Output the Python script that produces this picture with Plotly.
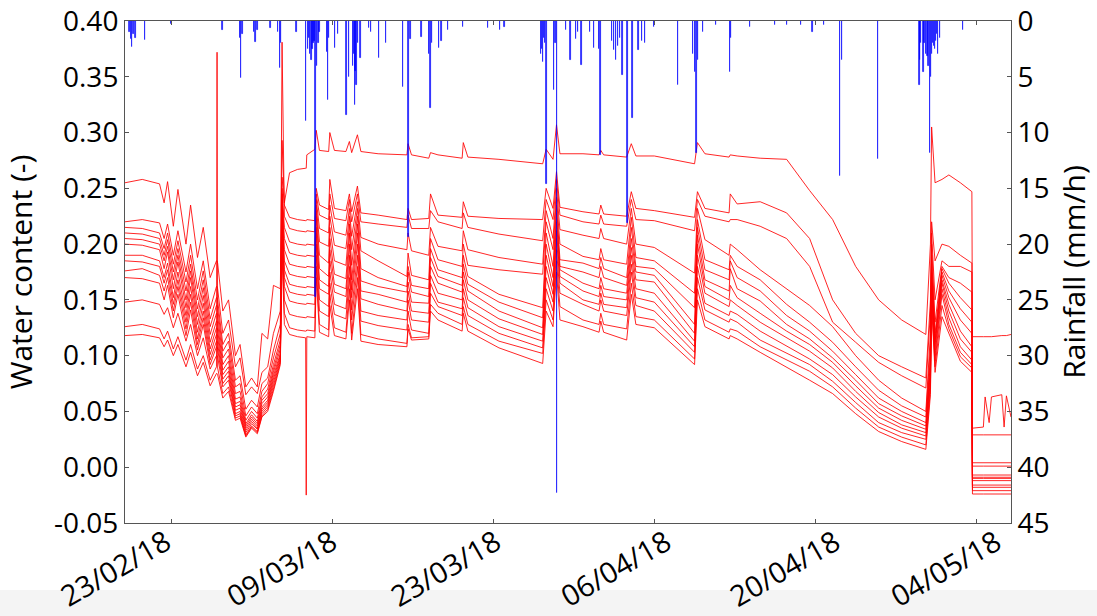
import pandas as pd
import plotly.graph_objects as go

start_date = "2018-02-19"
end_date = "2018-05-07"

# sample times (days after start_date)
t_days = [
    0.0, 1.5, 3.0, 3.4, 3.7, 4.2, 4.6, 5.3, 5.7, 6.3,
    6.8, 7.4, 7.95, 8.0, 8.05, 8.5, 9.0, 9.6, 10.0, 10.5,
    11.0, 11.5, 11.9, 12.4, 12.9, 13.5, 13.65, 13.85, 14.3, 15.0,
    15.7, 15.75, 15.8, 16.5, 16.62, 16.9, 17.7, 17.8, 18.2, 19.2,
    19.5, 19.7, 20.2, 20.5, 22.0, 24.5, 24.6, 24.9, 26.4, 26.55,
    27.2, 29.3, 29.4, 29.8, 32.5, 36.3, 36.6, 37.2, 37.5, 37.8,
    39.8, 41.2, 41.35, 41.6, 43.6, 44.0, 44.4, 46.0, 49.5, 49.75,
    50.4, 52.5, 52.6, 53.2, 55.2, 57.5, 59.5, 61.5, 63.5, 65.5,
    67.5, 69.6, 70.0, 70.1, 70.4, 71.0, 71.6, 72.6, 73.6, 73.65,
    74.6, 74.75, 75.1, 75.3, 76.2, 76.4, 76.6, 77.0]

s0 = [
    0.255, 0.258, 0.254, 0.237, 0.256, 0.216, 0.249, 0.200, 0.235, 0.188,
    0.215, 0.170, 0.185, 0.185, 0.183, 0.140, 0.150, 0.100, 0.110, 0.072,
    0.080, 0.072, 0.120, 0.115, 0.163, 0.160, 0.293, 0.237, 0.264, 0.267,
    0.268, 0.268, 0.280, 0.285, 0.302, 0.284, 0.283, 0.300, 0.284, 0.283,
    0.292, 0.282, 0.298, 0.283, 0.281, 0.280, 0.290, 0.280, 0.277, 0.282,
    0.280, 0.277, 0.291, 0.278, 0.276, 0.272, 0.285, 0.276, 0.307, 0.281,
    0.281, 0.280, 0.284, 0.280, 0.278, 0.290, 0.279, 0.279, 0.272, 0.291,
    0.281, 0.278, 0.280, 0.279, 0.277, 0.276, 0.248, 0.222, 0.180, 0.150,
    0.132, 0.119, 0.200, 0.305, 0.255, 0.258, 0.262, 0.255, 0.247, 0.117,
    0.117, 0.117, 0.117, 0.117, 0.118, 0.118, 0.118, 0.119]
s1 = [
    0.220, 0.222, 0.219, 0.205, 0.218, 0.190, 0.212, 0.175, 0.200, 0.160,
    0.185, 0.142, 0.162, 0.162, 0.160, 0.120, 0.132, 0.090, 0.098, 0.065,
    0.072, 0.066, 0.085, 0.090, 0.120, 0.140, 0.260, 0.235, 0.224, 0.222,
    0.221, 0.221, 0.222, 0.221, 0.250, 0.235, 0.231, 0.258, 0.232, 0.230,
    0.245, 0.229, 0.252, 0.228, 0.226, 0.222, 0.232, 0.222, 0.223, 0.245,
    0.226, 0.224, 0.238, 0.225, 0.223, 0.222, 0.250, 0.232, 0.265, 0.233,
    0.229, 0.227, 0.235, 0.227, 0.225, 0.247, 0.232, 0.230, 0.224, 0.247,
    0.232, 0.228, 0.245, 0.236, 0.238, 0.228, 0.205, 0.150, 0.120, 0.100,
    0.090, 0.080, 0.150, 0.220, 0.185, 0.200, 0.198, 0.190, 0.183, 0.035,
    0.036, 0.063, 0.040, 0.063, 0.065, 0.036, 0.064, 0.045]
s2 = [
    0.215, 0.214, 0.210, 0.196, 0.210, 0.182, 0.203, 0.166, 0.190, 0.150,
    0.176, 0.133, 0.152, 0.152, 0.150, 0.110, 0.120, 0.078, 0.082, 0.052,
    0.060, 0.054, 0.075, 0.080, 0.105, 0.128, 0.381, 0.225, 0.214, 0.212,
    0.211, 0.211, 0.212, 0.211, 0.245, 0.226, 0.222, 0.245, 0.223, 0.221,
    0.240, 0.220, 0.245, 0.220, 0.218, 0.215, 0.226, 0.214, 0.214, 0.230,
    0.220, 0.214, 0.228, 0.215, 0.209, 0.203, 0.240, 0.222, 0.258, 0.226,
    0.220, 0.218, 0.226, 0.218, 0.216, 0.240, 0.222, 0.221, 0.212, 0.240,
    0.225, 0.220, 0.222, 0.222, 0.216, 0.205, 0.180, 0.130, 0.112, 0.094,
    0.082, 0.071, 0.140, 0.210, 0.150, 0.185, 0.180, 0.180, 0.175, 0.029,
    0.029, 0.029, 0.029, 0.029, 0.029, 0.029, 0.029, 0.029]
s3 = [
    0.210, 0.209, 0.205, 0.190, 0.204, 0.175, 0.196, 0.158, 0.182, 0.142,
    0.168, 0.126, 0.145, 0.145, 0.143, 0.104, 0.113, 0.072, 0.075, 0.046,
    0.054, 0.048, 0.068, 0.075, 0.098, 0.120, 0.250, 0.215, 0.202, 0.200,
    0.199, 0.199, 0.200, 0.199, 0.240, 0.214, 0.210, 0.235, 0.211, 0.208,
    0.232, 0.207, 0.238, 0.206, 0.200, 0.195, 0.210, 0.194, 0.190, 0.215,
    0.198, 0.194, 0.212, 0.195, 0.188, 0.182, 0.230, 0.205, 0.250, 0.213,
    0.208, 0.205, 0.214, 0.205, 0.200, 0.232, 0.200, 0.197, 0.174, 0.232,
    0.204, 0.190, 0.200, 0.195, 0.177, 0.160, 0.145, 0.126, 0.100, 0.078,
    0.062, 0.050, 0.120, 0.200, 0.130, 0.180, 0.170, 0.165, 0.157, 0.004,
    0.004, 0.004, 0.004, 0.004, 0.004, 0.004, 0.004, 0.004]
s4 = [
    0.205, 0.204, 0.200, 0.185, 0.198, 0.168, 0.190, 0.150, 0.176, 0.135,
    0.161, 0.119, 0.138, 0.138, 0.136, 0.098, 0.106, 0.066, 0.068, 0.042,
    0.050, 0.044, 0.063, 0.070, 0.092, 0.114, 0.245, 0.205, 0.192, 0.190,
    0.189, 0.189, 0.190, 0.189, 0.235, 0.202, 0.198, 0.225, 0.199, 0.196,
    0.225, 0.195, 0.232, 0.194, 0.185, 0.171, 0.192, 0.172, 0.168, 0.205,
    0.186, 0.180, 0.200, 0.181, 0.177, 0.173, 0.220, 0.195, 0.242, 0.200,
    0.189, 0.186, 0.196, 0.186, 0.182, 0.224, 0.188, 0.185, 0.156, 0.222,
    0.186, 0.177, 0.190, 0.180, 0.168, 0.146, 0.130, 0.112, 0.090, 0.069,
    0.055, 0.045, 0.110, 0.190, 0.120, 0.178, 0.165, 0.152, 0.141, 0.001,
    0.001, 0.001, 0.001, 0.001, 0.001, 0.001, 0.001, 0.001]
s5 = [
    0.200, 0.199, 0.195, 0.178, 0.193, 0.160, 0.184, 0.143, 0.170, 0.128,
    0.154, 0.112, 0.131, 0.131, 0.129, 0.092, 0.100, 0.061, 0.063, 0.039,
    0.047, 0.041, 0.060, 0.066, 0.088, 0.110, 0.240, 0.195, 0.182, 0.180,
    0.179, 0.179, 0.180, 0.179, 0.230, 0.190, 0.183, 0.215, 0.185, 0.181,
    0.218, 0.181, 0.225, 0.178, 0.170, 0.162, 0.180, 0.163, 0.160, 0.196,
    0.177, 0.170, 0.190, 0.171, 0.155, 0.143, 0.210, 0.180, 0.235, 0.186,
    0.183, 0.178, 0.188, 0.178, 0.170, 0.215, 0.180, 0.178, 0.143, 0.215,
    0.177, 0.168, 0.185, 0.170, 0.158, 0.136, 0.122, 0.104, 0.083, 0.062,
    0.050, 0.040, 0.100, 0.180, 0.115, 0.175, 0.158, 0.142, 0.130, -0.007,
    -0.007, -0.007, -0.007, -0.007, -0.007, -0.007, -0.007, -0.007]
s6 = [
    0.190, 0.190, 0.185, 0.170, 0.183, 0.152, 0.175, 0.136, 0.162, 0.121,
    0.147, 0.106, 0.125, 0.125, 0.123, 0.087, 0.095, 0.057, 0.059, 0.037,
    0.045, 0.039, 0.057, 0.063, 0.085, 0.106, 0.235, 0.185, 0.173, 0.171,
    0.170, 0.170, 0.171, 0.170, 0.225, 0.178, 0.171, 0.205, 0.173, 0.169,
    0.210, 0.168, 0.218, 0.167, 0.162, 0.157, 0.175, 0.157, 0.153, 0.188,
    0.171, 0.163, 0.182, 0.164, 0.148, 0.134, 0.200, 0.170, 0.228, 0.180,
    0.175, 0.170, 0.180, 0.170, 0.163, 0.205, 0.175, 0.172, 0.128, 0.208,
    0.168, 0.158, 0.178, 0.160, 0.149, 0.128, 0.115, 0.098, 0.078, 0.057,
    0.046, 0.037, 0.095, 0.175, 0.112, 0.172, 0.152, 0.132, 0.120, -0.009,
    -0.009, -0.009, -0.009, -0.009, -0.009, -0.009, -0.009, -0.009]
s7 = [
    0.185, 0.184, 0.180, 0.165, 0.177, 0.146, 0.168, 0.130, 0.155, 0.115,
    0.140, 0.101, 0.119, 0.119, 0.117, 0.083, 0.090, 0.054, 0.056, 0.035,
    0.043, 0.037, 0.054, 0.060, 0.082, 0.102, 0.230, 0.177, 0.164, 0.162,
    0.161, 0.161, 0.162, 0.161, 0.215, 0.168, 0.162, 0.195, 0.164, 0.160,
    0.200, 0.159, 0.210, 0.158, 0.155, 0.148, 0.166, 0.148, 0.147, 0.180,
    0.165, 0.157, 0.175, 0.158, 0.140, 0.125, 0.190, 0.162, 0.220, 0.177,
    0.165, 0.160, 0.170, 0.160, 0.156, 0.197, 0.168, 0.166, 0.120, 0.200,
    0.162, 0.150, 0.163, 0.152, 0.138, 0.122, 0.110, 0.094, 0.073, 0.053,
    0.042, 0.034, 0.090, 0.170, 0.110, 0.168, 0.146, 0.122, 0.108, -0.010,
    -0.010, -0.010, -0.010, -0.010, -0.010, -0.010, -0.010, -0.010]
s8 = [
    0.176, 0.178, 0.172, 0.158, 0.170, 0.140, 0.162, 0.124, 0.148, 0.110,
    0.134, 0.096, 0.113, 0.113, 0.111, 0.079, 0.086, 0.051, 0.053, 0.033,
    0.041, 0.035, 0.052, 0.058, 0.079, 0.100, 0.225, 0.170, 0.157, 0.155,
    0.154, 0.154, 0.155, 0.154, 0.210, 0.160, 0.155, 0.185, 0.157, 0.153,
    0.190, 0.152, 0.200, 0.151, 0.146, 0.140, 0.158, 0.140, 0.138, 0.172,
    0.156, 0.150, 0.168, 0.150, 0.133, 0.119, 0.180, 0.155, 0.212, 0.171,
    0.158, 0.153, 0.163, 0.153, 0.150, 0.190, 0.160, 0.156, 0.113, 0.190,
    0.156, 0.144, 0.150, 0.145, 0.130, 0.116, 0.104, 0.089, 0.068, 0.049,
    0.038, 0.031, 0.085, 0.165, 0.105, 0.165, 0.140, 0.115, 0.103, -0.012,
    -0.012, -0.012, -0.012, -0.012, -0.012, -0.012, -0.012, -0.012]
s9 = [
    0.170, 0.169, 0.165, 0.150, 0.163, 0.134, 0.155, 0.118, 0.141, 0.105,
    0.128, 0.092, 0.108, 0.108, 0.106, 0.075, 0.082, 0.048, 0.050, 0.031,
    0.039, 0.034, 0.050, 0.056, 0.076, 0.098, 0.220, 0.162, 0.149, 0.147,
    0.146, 0.146, 0.147, 0.146, 0.200, 0.150, 0.144, 0.175, 0.146, 0.142,
    0.180, 0.141, 0.190, 0.140, 0.136, 0.132, 0.150, 0.132, 0.130, 0.165,
    0.148, 0.142, 0.160, 0.143, 0.126, 0.113, 0.170, 0.148, 0.205, 0.165,
    0.150, 0.146, 0.156, 0.146, 0.143, 0.182, 0.152, 0.148, 0.108, 0.180,
    0.147, 0.136, 0.140, 0.137, 0.122, 0.109, 0.097, 0.083, 0.063, 0.045,
    0.035, 0.028, 0.080, 0.160, 0.100, 0.160, 0.134, 0.108, 0.096, -0.016,
    -0.016, -0.016, -0.016, -0.016, -0.016, -0.016, -0.016, -0.016]
s10 = [
    0.148, 0.150, 0.146, 0.137, 0.143, 0.125, 0.138, 0.113, 0.128, 0.100,
    0.116, 0.088, 0.100, 0.100, 0.099, 0.072, 0.078, 0.046, 0.048, 0.029,
    0.037, 0.032, 0.048, 0.054, 0.073, 0.096, 0.210, 0.150, 0.137, 0.135,
    0.134, 0.134, 0.135, 0.134, 0.190, 0.140, 0.135, 0.165, 0.137, 0.133,
    0.170, 0.132, 0.180, 0.131, 0.127, 0.123, 0.140, 0.123, 0.120, 0.156,
    0.144, 0.136, 0.152, 0.136, 0.120, 0.107, 0.160, 0.140, 0.195, 0.156,
    0.146, 0.140, 0.150, 0.140, 0.136, 0.175, 0.145, 0.140, 0.103, 0.170,
    0.141, 0.130, 0.133, 0.130, 0.114, 0.102, 0.092, 0.077, 0.058, 0.040,
    0.031, 0.025, 0.075, 0.155, 0.095, 0.155, 0.128, 0.103, 0.092, -0.018,
    -0.018, -0.018, -0.018, -0.018, -0.018, -0.018, -0.018, -0.018]
s11 = [
    0.126, 0.128, 0.124, 0.115, 0.122, 0.106, 0.117, 0.096, 0.110, 0.088,
    0.100, 0.078, 0.090, 0.372, 0.089, 0.066, 0.072, 0.044, 0.046, 0.028,
    0.036, 0.031, 0.046, 0.052, 0.070, 0.094, 0.200, 0.138, 0.125, 0.123,
    0.122, 0.122, 0.123, 0.122, 0.180, 0.128, 0.123, 0.155, 0.125, 0.121,
    0.160, 0.120, 0.170, 0.119, 0.115, 0.111, 0.128, 0.116, 0.117, 0.146,
    0.138, 0.128, 0.144, 0.128, 0.113, 0.102, 0.150, 0.132, 0.185, 0.144,
    0.132, 0.128, 0.138, 0.128, 0.124, 0.165, 0.135, 0.132, 0.097, 0.160,
    0.132, 0.121, 0.124, 0.122, 0.108, 0.096, 0.086, 0.072, 0.053, 0.036,
    0.027, 0.020, 0.070, 0.150, 0.090, 0.145, 0.124, 0.099, 0.089, -0.021,
    -0.021, -0.021, -0.021, -0.021, -0.021, -0.021, -0.021, -0.021]
s12 = [
    0.118, 0.119, 0.116, 0.108, 0.114, 0.100, 0.110, 0.090, 0.103, 0.082,
    0.094, 0.073, 0.084, 0.084, 0.083, 0.062, 0.068, 0.042, 0.044, 0.027,
    0.035, 0.030, 0.045, 0.050, 0.068, 0.092, 0.190, 0.128, 0.119, 0.117,
    0.116, -0.025, 0.117, 0.116, 0.170, 0.121, 0.117, 0.145, 0.118, 0.115,
    0.150, 0.114, 0.160, 0.113, 0.110, 0.108, 0.124, 0.114, 0.115, 0.140,
    0.132, 0.122, 0.138, 0.122, 0.107, 0.093, 0.140, 0.126, 0.175, 0.132,
    0.126, 0.121, 0.131, 0.121, 0.114, 0.155, 0.128, 0.125, 0.092, 0.150,
    0.126, 0.115, 0.118, 0.115, 0.103, 0.090, 0.078, 0.066, 0.048, 0.032,
    0.023, 0.016, 0.065, 0.145, 0.085, 0.135, 0.120, 0.095, 0.085, -0.024,
    -0.024, -0.024, -0.024, -0.024, -0.024, -0.024, -0.024, -0.024]

# rainfall events (days after start_date, mm/h)
rain_days = [0.4, 0.5, 0.6, 0.75, 0.9, 1.74, 4.0, 8.49, 9.99, 10.1, 10.2, 11.2, 11.34, 11.5, 12.66,
             13.3, 13.47, 13.56, 14.92, 15.73, 15.9, 16.0, 16.08, 16.22, 16.3, 16.38, 16.45,
             16.57, 16.7, 16.8, 16.9,
             17.55, 17.62, 17.73, 18.25, 18.5, 19.27, 19.47, 19.81, 19.9, 19.99, 20.05, 20.12,
             20.25, 20.48, 21.2, 21.4, 22.07, 22.68, 24.16, 24.65, 24.83, 25.78, 26.42, 26.55,
             26.68, 27.29, 27.5, 28.07, 29.37, 31.55, 32.59, 33.0, 36.15, 36.25, 36.32, 36.4,
             36.5, 36.65, 37.28, 37.41, 37.56, 38.33, 38.73, 39.2, 39.37, 39.69, 40.41, 40.78,
             41.19, 41.34, 42.32, 42.5, 42.67, 42.84, 43.02, 43.22, 43.65, 44.09, 44.61,
             44.93, 45.19, 45.97, 48.08, 49.36, 49.54, 49.68, 49.8, 50.23, 51.36, 52.58,
             52.66, 54.31, 56.49, 57.53, 58.75, 59.76, 60.75, 62.14, 62.31, 65.46, 69.03,
             69.1, 69.18, 69.38, 69.5, 69.6, 69.74, 69.85, 69.96, 70.05, 70.13, 70.2, 70.3,
             70.4, 70.48, 70.55, 70.65, 70.83, 72.85]
rain_mm = [1.0, 1.6, 2.3, 1.2, 1.5, 1.7, 0.3, 0.8, 1.5, 5.1, 1.2, 1.0, 1.9, 0.8, 0.6,
           1.0, 4.2, 2.0, 1.0, 9.0, 2.5, 1.5, 3.0, 3.5, 2.5, 2.0, 1.8,
           24.7, 4.0, 2.0, 1.0,
           2.8, 7.1, 1.5, 2.4, 1.2, 8.4, 5.0, 4.0, 3.0, 7.5, 4.5, 5.7,
           2.0, 3.3, 0.6, 1.0, 3.3, 2.0, 5.9, 19.4, 1.6, 1.4, 3.0, 7.8,
           2.0, 2.4, 1.8, 0.8, 0.5, 0.6, 0.8, 0.5, 3.0, 2.5, 3.7, 1.5,
           2.0, 14.6, 6.2, 2.0, 42.3, 0.8, 3.5, 1.6, 1.0, 3.9, 1.0, 2.4,
           2.5, 12.0, 1.8, 2.6, 3.5, 2.2, 1.5, 4.8, 18.1, 8.7, 2.6,
           1.8, 2.0, 0.5, 5.7, 3.0, 4.6, 11.8, 3.5, 1.0, 0.4, 4.6,
           1.5, 0.5, 0.4, 0.4, 0.4, 1.0, 0.4, 13.9, 3.5, 12.4, 5.7,
           3.5, 2.0, 4.6, 2.0, 3.0, 3.1, 4.0, 11.8, 5.0, 3.0, 2.0, 2.2,
           2.5, 1.8, 1.2, 3.0, 1.5, 0.8]

x_tick_dates = ["2018-02-23", "2018-03-09", "2018-03-23", "2018-04-06", "2018-04-20", "2018-05-04"]
x_tick_labels = ["23/02/18", "09/03/18", "23/03/18", "06/04/18", "20/04/18", "04/05/18"]
y_tick_vals = [-0.05, 0.0, 0.05, 0.10, 0.15, 0.20, 0.25, 0.30, 0.35, 0.40]
y_tick_labels = ["-0.05", "0.00", "0.05", "0.10", "0.15", "0.20", "0.25", "0.30", "0.35", "0.40"]
y2_tick_vals = [0, 5, 10, 15, 20, 25, 30, 35, 40, 45]

# horizontal pixel offsets of the rotated date labels relative to their ticks (layout only)
label_xshift = [9, 14, 17, 26, 34, 34]

series = [s0, s1, s2, s3, s4, s5, s6, s7, s8, s9, s10, s11, s12]
for s in series:
    assert len(s) == len(t_days), len(s)
assert len(rain_days) == len(rain_mm), (len(rain_days), len(rain_mm))

start = pd.Timestamp(start_date)
times = start + pd.to_timedelta(t_days, unit="D")
rain_times = start + pd.to_timedelta(rain_days, unit="D")

fig = go.Figure()
for s in series:
    fig.add_trace(go.Scatter(x=times, y=s, mode="lines",
                             line=dict(color="rgba(255,0,0,0.85)", width=1),
                             showlegend=False, hoverinfo="skip"))
fig.add_trace(go.Bar(x=rain_times, y=rain_mm, yaxis="y2", width=3600000,
                     marker=dict(color="rgba(0,0,255,0.8)",
                                 line=dict(color="rgba(0,0,255,0.8)", width=0.8)),
                     showlegend=False, hoverinfo="skip"))

annotations = []
for d, lab, dx in zip(x_tick_dates, x_tick_labels, label_xshift):
    annotations.append(dict(x=d, xref="x", y=0, yref="paper", text=lab,
                            showarrow=False, textangle=-30,
                            xanchor="right", yanchor="top",
                            xshift=dx, yshift=5,
                            font=dict(family="Open Sans", size=29, color="black")))

axis_col = "#555555"
fig.update_layout(
    width=1097, height=616,
    margin=dict(l=125, r=86, t=21, b=93, autoexpand=False),
    paper_bgcolor="white", plot_bgcolor="white",
    font=dict(family="Open Sans", color="black", size=28),
    bargap=0,
    xaxis=dict(type="date", range=[start_date, end_date], automargin=False,
               tickvals=pd.to_datetime(x_tick_dates), showticklabels=False,
               ticks="inside", ticklen=4, tickcolor=axis_col,
               showline=True, linecolor=axis_col, linewidth=1, mirror="ticks",
               showgrid=False, zeroline=False),
    yaxis=dict(range=[-0.05, 0.40], tickvals=y_tick_vals, ticktext=y_tick_labels,
               automargin=False, ticks="inside", ticklen=4, tickcolor=axis_col,
               showline=True, linecolor=axis_col, linewidth=1,
               showgrid=False, zeroline=False, tickfont=dict(size=28),
               title=dict(text="Water content (-)", font=dict(size=30))),
    yaxis2=dict(overlaying="y", side="right", range=[45, 0], tickvals=y2_tick_vals,
                automargin=False, ticks="inside", ticklen=4, tickcolor=axis_col,
                showline=True, linecolor=axis_col, linewidth=1,
                showgrid=False, zeroline=False, tickfont=dict(size=28),
                title=dict(text="Rainfall (mm/h)", font=dict(size=30))),
    annotations=annotations,
    shapes=[dict(type="rect", xref="paper", yref="paper", x0=-0.15, x1=1.11,
                 y0=-0.19, y1=-0.1335, fillcolor="#f4f4f4", line=dict(width=0),
                 layer="below")],
)

fig.write_html("out.html")
